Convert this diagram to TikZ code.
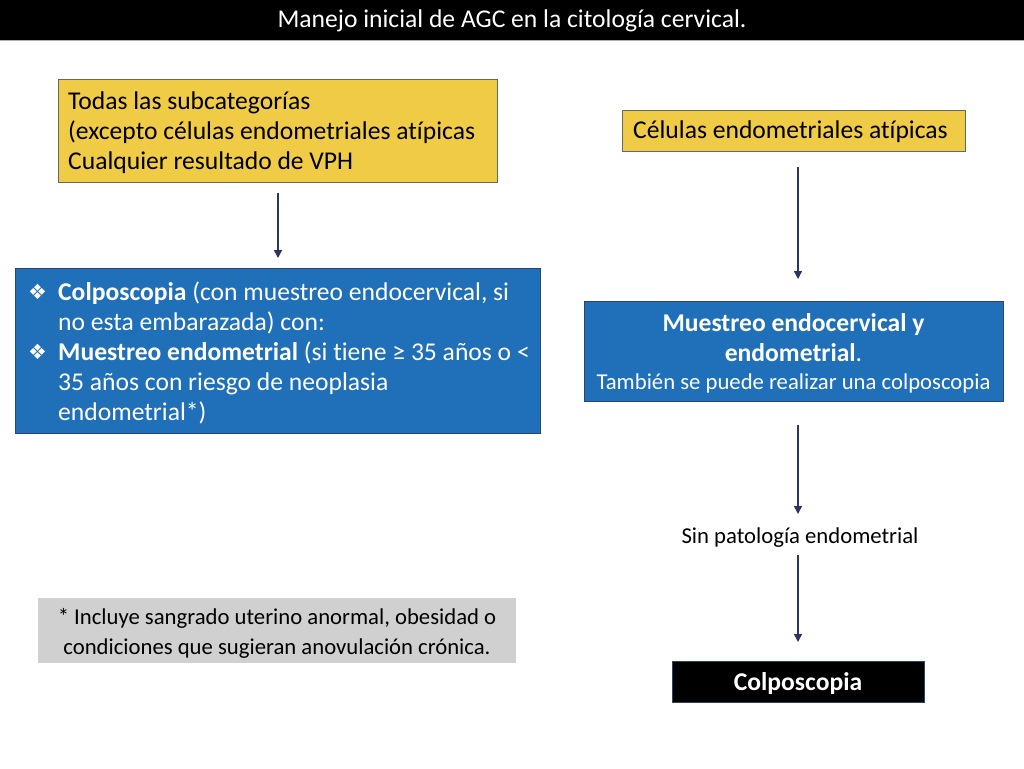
\documentclass[tikz,border=0pt]{standalone}
\usepackage{fontspec}
\setmainfont{Carlito}[Ligatures=NoCommon]
\newfontfamily\symfont{DejaVu Sans}
\usetikzlibrary{arrows.meta}
\definecolor{ybox}{HTML}{F0CB46}
\definecolor{bbox}{HTML}{1F70B8}
\definecolor{bborder}{HTML}{2B4470}
\definecolor{arr}{HTML}{2B3660}
\definecolor{gbox}{HTML}{D0D0D0}
\newcommand{\bul}{\makebox[30pt][l]{\raisebox{1pt}{\symfont\fontsize{21}{21}\selectfont ❖}}}
\tikzset{
  yellowbox/.style={draw=gray!80!black, line width=0.8pt, fill=ybox, anchor=north west, inner sep=0pt},
  bluebox/.style={draw=bborder, line width=0.8pt, fill=bbox, anchor=north west, inner sep=0pt, text=white},
  flow/.style={draw=arr, line width=1.4pt, -{Triangle[length=8pt,width=8pt]}},
  txt/.style={font=\fontsize{25.6}{30}\selectfont}
}
\begin{document}
\begin{tikzpicture}[x=1pt,y=-1pt]
\useasboundingbox (0,0) rectangle (1024,768);
\fill[white] (0,0) rectangle (1024,768);
% title
\fill[black] (0,0) rectangle (1024,40);
\draw[gray!60, line width=1pt] (0,40.5) -- (1024,40.5);
\node[text=white, txt] (title) at (512,21) {Manejo inicial de AGC en la citología cervical.};
% left yellow
\node[yellowbox, minimum width=439pt, minimum height=103pt] (y1) at (58,79) {};
\node[anchor=west, txt, align=left, inner sep=0pt] (y1t) at (68,132.5) {Todas las subcategorías\\(excepto células endometriales atípicas\\Cualquier resultado de VPH};
% right yellow
\node[yellowbox, minimum width=343pt, minimum height=41pt] (y2) at (622,110) {};
\node[anchor=west, txt, inner sep=0pt] (y2t) at (633,132) {Células endometriales atípicas};
% left blue
\node[bluebox, minimum width=525pt, minimum height=165pt] (b1) at (15,268) {};
\node[anchor=west, txt, inner sep=0pt, text=white] (b1t) at (28,352.5) {\parbox{505pt}{\raggedright
\hangindent=30pt\hangafter=1\noindent\bul\textbf{Colposcopia} (con muestreo endocervical, si\newline no esta embarazada) con:\par
\hangindent=30pt\hangafter=1\noindent\bul\textbf{Muestreo endometrial} (si tiene ≥ 35 años o <\newline 35 años con riesgo de neoplasia\newline endometrial*)}};
% right blue
\node[bluebox, minimum width=419pt, minimum height=100pt] (b2) at (584,301) {};
\node[text=white, inner sep=0pt] (b2t) at (793.5,353.5) {\parbox{419pt}{\centering
\fontsize{25.6}{30}\selectfont\textbf{Muestreo endocervical y}\\\textbf{endometrial}.\par
\fontsize{22.7}{28}\selectfont También se puede realizar una colposcopia\par}};
% sin patologia
\node[font=\fontsize{22.7}{26}\selectfont, inner sep=2pt] (sp) at (800,538) {Sin patología endometrial};
% black box
\node[draw=bborder, line width=0.8pt, fill=black, anchor=north west, minimum width=252pt, minimum height=41pt, inner sep=0pt] (cp) at (672,661) {};
\node[text=white, inner sep=0pt, font=\fontsize{25.6}{30}\selectfont\bfseries] (cpt) at (798,684) {Colposcopia};
% grey footnote
\node[fill=gbox, anchor=north west, minimum width=478pt, minimum height=65pt, inner sep=0pt] (fn) at (38,598) {};
\node[inner sep=0pt, align=center, font=\fontsize{22.7}{30}\selectfont] (fnt) at (277,633.5) {* Incluye sangrado uterino anormal, obesidad o\\condiciones que sugieran anovulación crónica.};
% arrows
\coordinate (a1s) at (278,193); \coordinate (a1e) at (278,258);
\draw[flow] (a1s) -- (a1e);
\coordinate (a2s) at (798,167); \coordinate (a2e) at (798,279);
\draw[flow] (a2s) -- (a2e);
\coordinate (a3s) at (798,425); \coordinate (a3e) at (798,514);
\draw[flow] (a3s) -- (a3e);
\coordinate (a4s) at (798,555); \coordinate (a4e) at (798,642);
\draw[flow] (a4s) -- (a4e);
\end{tikzpicture}
\end{document}
